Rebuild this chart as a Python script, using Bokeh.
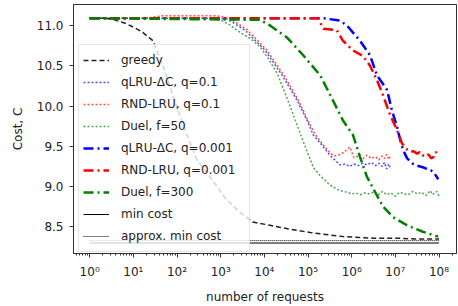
from bokeh.plotting import figure
from bokeh.models import Range1d, FixedTicker, Legend, LegendItem
from bokeh.embed import file_html
from bokeh.resources import INLINE

# ---------------- data (log10 of number of requests, cost) ----------------
greedy_lx = [0, 0.3, 0.5, 0.8, 1.0, 1.2, 1.45, 1.7, 1.92, 2.2, 2.46, 2.81, 3.1, 3.4, 3.74, 4.13, 4.6, 5.05, 5.5, 5.8, 6.5, 7.0, 7.5, 8.0]
greedy_c = [11.09, 11.09, 11.08, 11.03, 10.98, 10.92, 10.81, 10.47, 10.11, 9.68, 9.33, 9.08, 8.86, 8.70, 8.56, 8.52, 8.47, 8.43, 8.40, 8.38, 8.36, 8.36, 8.35, 8.35]

qlru01_lx = [0, 2.8, 3.15, 3.56, 4.02, 4.41, 4.75, 4.98, 5.12, 5.28, 5.5, 5.73, 5.85, 5.95, 6.05, 6.15, 6.25, 6.35, 6.45, 6.55, 6.62, 6.7, 6.75, 6.8, 6.85, 6.88]
qlru01_c = [11.09, 11.09, 11.08, 10.94, 10.69, 10.38, 10.07, 9.82, 9.64, 9.54, 9.39, 9.27, 9.28, 9.25, 9.28, 9.26, 9.29, 9.27, 9.30, 9.26, 9.29, 9.25, 9.30, 9.22, 9.28, 9.24]

rnd01_lx = [0, 1.3, 1.66, 2.5, 2.9, 3.2, 3.6, 4.05, 4.45, 4.78, 5.0, 5.15, 5.3, 5.5, 5.6, 5.75, 5.85, 5.96, 6.05, 6.15, 6.25, 6.35, 6.45, 6.55, 6.62, 6.7, 6.75, 6.8, 6.85, 6.88]
rnd01_c = [11.09, 11.09, 11.12, 11.12, 11.12, 11.09, 10.95, 10.70, 10.38, 10.07, 9.82, 9.66, 9.55, 9.42, 9.38, 9.40, 9.44, 9.49, 9.36, 9.38, 9.34, 9.39, 9.35, 9.37, 9.33, 9.38, 9.35, 9.40, 9.34, 9.37]

duel50_lx = [0, 2.6, 2.99, 3.2, 3.45, 3.7, 3.91, 4.1, 4.29, 4.54, 4.82, 5.12, 5.27, 5.5, 5.73, 5.9, 6.0, 6.1, 6.2, 6.3, 6.4, 6.5, 6.6, 6.7, 6.8, 6.9, 7.0, 7.1, 7.2, 7.3, 7.4, 7.5, 7.6, 7.7, 7.8, 7.85, 7.9, 7.95, 8.0]
duel50_c = [11.09, 11.09, 11.07, 11.01, 10.91, 10.83, 10.73, 10.58, 10.41, 10.07, 9.66, 9.24, 9.14, 9.02, 8.95, 8.93, 8.91, 8.92, 8.90, 8.92, 8.91, 8.93, 8.89, 8.94, 8.90, 8.92, 8.88, 8.93, 8.91, 8.90, 8.94, 8.91, 8.93, 8.89, 8.95, 8.90, 8.92, 8.94, 8.88]

qlru0001_lx = [0, 5.35, 5.73, 5.89, 6.19, 6.42, 6.58, 6.81, 6.92, 7.04, 7.11, 7.18, 7.27, 7.41, 7.5, 7.63, 7.72, 7.79, 7.85, 7.91, 7.95, 7.98]
qlru0001_c = [11.09, 11.09, 11.06, 11.00, 10.81, 10.63, 10.38, 10.20, 9.95, 9.74, 9.58, 9.45, 9.35, 9.28, 9.26, 9.24, 9.22, 9.21, 9.19, 9.15, 9.12, 9.09]

rnd0001_lx = [0, 5.23, 5.35, 5.66, 5.80, 6.03, 6.26, 6.42, 6.58, 6.72, 6.88, 7.04, 7.15, 7.27, 7.35, 7.41, 7.5, 7.56, 7.62, 7.7, 7.76, 7.82, 7.88, 7.93, 7.98]
rnd0001_c = [11.09, 11.09, 10.96, 10.94, 10.81, 10.69, 10.62, 10.50, 10.32, 10.13, 9.89, 9.70, 9.54, 9.46, 9.43, 9.44, 9.41, 9.43, 9.39, 9.37, 9.40, 9.35, 9.37, 9.43, 9.40]

duel300_lx = [0, 3.9, 4.13, 4.52, 4.89, 5.28, 5.57, 5.80, 6.03, 6.19, 6.35, 6.49, 6.72, 6.95, 7.27, 7.63, 7.98]
duel300_c = [11.09, 11.07, 11.00, 10.85, 10.63, 10.38, 10.07, 9.82, 9.64, 9.37, 9.12, 8.98, 8.75, 8.62, 8.52, 8.44, 8.38]

mincost_lx = [0, 8.0]
mincost_c = [8.30, 8.30]
approx_lx = [0, 8.0]
approx_c = [8.33, 8.33]

major_exps = [0, 1, 2, 3, 4, 5, 6, 7, 8]
major_labels = ["10\u2070", "10\u00b9", "10\u00b2", "10\u00b3", "10\u2074", "10\u2075", "10\u2076", "10\u2077", "10\u2078"]
y_ticks = [8.5, 9.0, 9.5, 10.0, 10.5, 11.0]

def to_n(lx):
    return [10 ** v for v in lx]

FONT = "DejaVu Sans"

p = figure(width=458, height=306, x_axis_type="log",
           x_range=Range1d(10 ** -0.37, 10 ** 8.40), y_range=Range1d(8.17, 11.26),
           output_backend="svg", toolbar_location=None,
           min_border_left=73, min_border_right=2, min_border_top=4, min_border_bottom=53)

p.xgrid.visible = False
p.ygrid.visible = False
p.outline_line_color = "#333333"
p.outline_line_width = 1
p.background_fill_color = "white"
p.border_fill_color = "white"

minors = []
for k in range(-1, 9):
    for m in range(2, 10):
        minors.append(m * 10.0 ** k)
p.xaxis.ticker = FixedTicker(ticks=[10.0 ** e for e in major_exps], minor_ticks=minors)
p.xaxis.major_label_overrides = {10.0 ** e: lab for e, lab in zip(major_exps, major_labels)}
p.yaxis.ticker = FixedTicker(ticks=y_ticks)
p.yaxis.major_label_overrides = {v: f"{v:.1f}" for v in y_ticks}

for ax in (p.xaxis[0], p.yaxis[0]):
    ax.axis_line_color = "#333333"
    ax.major_tick_line_color = "#333333"
    ax.minor_tick_line_color = "#333333"
    ax.major_tick_out = 4
    ax.major_tick_in = 0
    ax.minor_tick_out = 2
    ax.minor_tick_in = 0
    ax.major_label_text_font = FONT
    ax.major_label_text_font_size = "12px"
    ax.major_label_text_color = "#222222"
    ax.axis_label_text_font = FONT
    ax.axis_label_text_font_size = "12px"
    ax.axis_label_text_font_style = "normal"
    ax.axis_label_text_color = "#222222"
p.yaxis.minor_tick_line_color = None
p.xaxis.major_label_standoff = 7
p.yaxis.major_label_standoff = 6

p.xaxis.axis_label = "number of requests"
p.yaxis.axis_label = "Cost, C"
p.xaxis.axis_label_standoff = 8
p.yaxis.axis_label_standoff = 9

r_greedy = p.line(to_n(greedy_lx), greedy_c, line_color="#222222", line_width=1.5, line_dash="5 3")
r_q01 = p.line(to_n(qlru01_lx), qlru01_c, line_color="blue", line_width=1.5, line_dash="2 2", line_alpha=0.7)
r_r01 = p.line(to_n(rnd01_lx), rnd01_c, line_color="red", line_width=1.5, line_dash="2 2", line_alpha=0.7)
r_d50 = p.line(to_n(duel50_lx), duel50_c, line_color="green", line_width=1.5, line_dash="2 2", line_alpha=0.7)
r_q0001 = p.line(to_n(qlru0001_lx), qlru0001_c, line_color="blue", line_width=2.5, line_dash="10 4 2 4")
r_r0001 = p.line(to_n(rnd0001_lx), rnd0001_c, line_color="red", line_width=2.5, line_dash="10 4 2 4")
r_d300 = p.line(to_n(duel300_lx), duel300_c, line_color="green", line_width=2.5, line_dash="10 4 2 4")
r_min = p.line(to_n(mincost_lx), mincost_c, line_color="black", line_width=1)
r_apx = p.line(to_n(approx_lx), approx_c, line_color="black", line_width=1, line_dash="1 1")

legend = Legend(items=[
    LegendItem(label="greedy", renderers=[r_greedy]),
    LegendItem(label="qLRU-\u0394C, q=0.1", renderers=[r_q01]),
    LegendItem(label="RND-LRU, q=0.1", renderers=[r_r01]),
    LegendItem(label="Duel, f=50", renderers=[r_d50]),
    LegendItem(label="qLRU-\u0394C, q=0.001", renderers=[r_q0001]),
    LegendItem(label="RND-LRU, q=0.001", renderers=[r_r0001]),
    LegendItem(label="Duel, f=300", renderers=[r_d300]),
    LegendItem(label="min cost", renderers=[r_min]),
    LegendItem(label="approx. min cost", renderers=[r_apx]),
], location=(5, 1))
legend.label_text_font = FONT
legend.label_text_font_size = "12px"
legend.label_text_color = "#222222"
legend.glyph_width = 26
legend.glyph_height = 22
legend.label_height = 22
legend.label_width = 124
legend.label_standoff = 12
legend.spacing = 0
legend.padding = 4
legend.margin = 0
legend.border_line_color = "#cccccc"
legend.border_line_width = 1
legend.background_fill_color = "white"
legend.background_fill_alpha = 0.8
p.add_layout(legend)

open("out.html", "w").write(file_html(p, INLINE))
